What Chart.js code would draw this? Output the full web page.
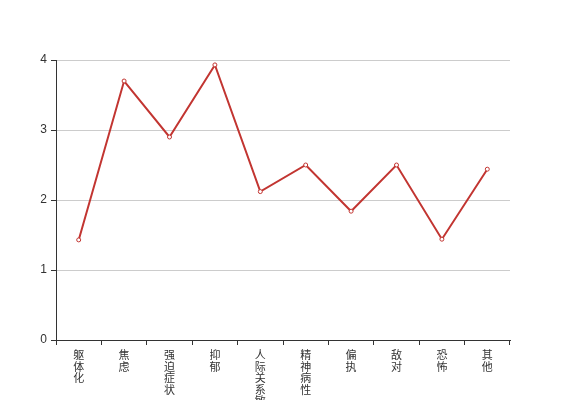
<!DOCTYPE html>
<html>
<head>
<meta charset="utf-8">
<script src="https://cdn.jsdelivr.net/npm/chart.js@4"></script>
<style>
  html, body { margin: 0; padding: 0; background: #fff; }
  canvas { display: block; }
</style>
</head>
<body>
<canvas id="chart" width="567" height="400"></canvas>
<script>
const categories = ['躯体化', '焦虑', '强迫症状', '抑郁', '人际关系敏感', '精神病性', '偏执', '敌对', '恐怖', '其他'];
const scores = [1.43, 3.70, 2.90, 3.93, 2.12, 2.50, 1.84, 2.50, 1.44, 2.44];
const yTicks = [0, 1, 2, 3, 4];

const lineColor = '#c23531';
const axisColor = '#333';

const ctx = document.getElementById('chart').getContext('2d');
new Chart(ctx, {
  type: 'line',
  data: {
    // vertical labels: one character per line
    labels: categories.map((c) => c.split('')),
    datasets: [{
      data: scores,
      borderColor: lineColor,
      borderWidth: 2,
      backgroundColor: '#fff',
      pointRadius: 2,
      pointBorderWidth: 1,
      pointBackgroundColor: '#fff',
      pointBorderColor: lineColor,
      tension: 0,
    }],
  },
  options: {
    responsive: false,
    animation: false,
    layout: { padding: { top: 60, right: 57, bottom: 0, left: 0 } },
    plugins: { legend: { display: false }, tooltip: { enabled: false } },
    scales: {
      x: {
        offset: true,
        afterFit: (scale) => { scale.height = 60; },
        grid: { offset: true, drawOnChartArea: false, tickColor: axisColor, tickLength: 5 },
        border: { color: axisColor, width: 1 },
        ticks: {
          autoSkip: false,
          maxRotation: 0,
          minRotation: 0,
          padding: 4,
          color: axisColor,
          font: { family: '"Noto Sans CJK SC", sans-serif', size: 11, lineHeight: 1.05 },
        },
      },
      y: {
        min: yTicks[0],
        max: yTicks[yTicks.length - 1],
        afterFit: (scale) => { scale.width = 56; },
        afterBuildTicks: (scale) => { scale.ticks = yTicks.map((v) => ({ value: v })); },
        grid: { color: '#ccc', tickColor: axisColor, tickLength: 5 },
        border: { color: axisColor, width: 1 },
        ticks: {
          padding: 4,
          color: axisColor,
          font: { family: '"Liberation Sans", sans-serif', size: 12 },
        },
      },
    },
  },
});
</script>
</body>
</html>
